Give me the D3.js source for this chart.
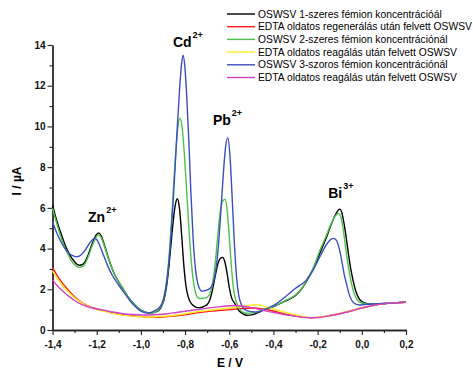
<!DOCTYPE html>
<html><head><meta charset="utf-8">
<script src="https://cdn.jsdelivr.net/npm/d3@7"></script>
<style>body{margin:0;background:#fff;}svg{display:block;font-family:"Liberation Sans",Arial,sans-serif;}</style>
</head><body><svg id="c" width="473" height="369"></svg>
<script>
const xTicks = [-1.4,-1.2,-1.0,-0.8,-0.6,-0.4,-0.2,0.0,0.2];
const yTicks = [0,2,4,6,8,10,12,14];
const seriesNames = [
 "OSWSV 1-szeres fémion koncentrációál",
 "EDTA oldatos regenerálás után felvett OSWSV",
 "OSWSV 2-szeres fémion koncentrációnál",
 "EDTA oldatos reagálás után felvett OSWSV",
 "OSWSV 3-szoros fémion koncentrációnál",
 "EDTA oldatos reagálás után felvett OSWSV"
];
const seriesColors = ["#000000","#ff1a1a","#4cc24c","#ffee22","#3a4fc0","#d040c8"];

const black = [[-1.40,6.15],[-1.38,5.35],[-1.36,4.7],[-1.34,4.1],[-1.32,3.65],[-1.30,3.35],[-1.28,3.18],[-1.26,3.25],[-1.24,3.65],[-1.22,4.25],[-1.20,4.7],[-1.19,4.77],[-1.18,4.62],[-1.16,4.0],[-1.14,3.3],[-1.12,2.75],[-1.10,2.35],[-1.08,2.0],[-1.06,1.65],[-1.04,1.38],[-1.02,1.15],[-1.00,0.98],[-0.98,0.88],[-0.96,0.84],[-0.94,0.86],[-0.925,0.93],[-0.915,1.0],[-0.905,1.2],[-0.895,1.5],[-0.885,2.05],[-0.875,2.93],[-0.865,4.05],[-0.855,5.2],[-0.845,6.1],[-0.835,6.45],[-0.825,5.95],[-0.815,4.6],[-0.805,3.1],[-0.795,2.1],[-0.785,1.6],[-0.775,1.35],[-0.76,1.18],[-0.745,1.1],[-0.733,1.1],[-0.72,1.13],[-0.71,1.18],[-0.70,1.25],[-0.69,1.42],[-0.68,1.78],[-0.67,2.3],[-0.66,2.85],[-0.65,3.3],[-0.64,3.52],[-0.63,3.57],[-0.62,3.35],[-0.61,2.8],[-0.60,2.1],[-0.59,1.6],[-0.575,1.3],[-0.56,1.0],[-0.545,0.84],[-0.53,0.75],[-0.515,0.72],[-0.50,0.74],[-0.48,0.8],[-0.45,0.95],[-0.40,1.15],[-0.35,1.4],[-0.30,1.7],[-0.27,2.05],[-0.25,2.4],[-0.22,3.0],[-0.19,3.77],[-0.16,4.55],[-0.14,5.15],[-0.12,5.65],[-0.10,5.94],[-0.09,5.75],[-0.08,5.2],[-0.07,4.5],[-0.06,3.7],[-0.05,3.0],[-0.04,2.46],[-0.03,2.0],[-0.02,1.7],[-0.01,1.5],[0.0,1.4],[0.02,1.31],[0.05,1.28],[0.10,1.3],[0.15,1.33],[0.20,1.37]];

const green = [[-1.40,5.98],[-1.38,5.2],[-1.36,4.5],[-1.34,3.95],[-1.32,3.5],[-1.30,3.2],[-1.28,3.08],[-1.26,3.15],[-1.24,3.55],[-1.22,4.15],[-1.20,4.6],[-1.19,4.68],[-1.18,4.55],[-1.16,3.95],[-1.14,3.3],[-1.12,2.75],[-1.10,2.35],[-1.08,2.0],[-1.06,1.65],[-1.04,1.38],[-1.02,1.15],[-1.00,0.98],[-0.98,0.88],[-0.96,0.85],[-0.94,0.86],[-0.925,0.95],[-0.913,1.09],[-0.903,1.29],[-0.893,1.69],[-0.883,2.4],[-0.873,3.52],[-0.863,5.06],[-0.853,6.87],[-0.843,8.6],[-0.833,9.93],[-0.823,10.4],[-0.813,9.93],[-0.803,8.6],[-0.793,6.87],[-0.783,5.06],[-0.773,3.52],[-0.763,2.45],[-0.753,1.85],[-0.743,1.6],[-0.733,1.55],[-0.72,1.56],[-0.709,1.58],[-0.699,1.62],[-0.689,1.76],[-0.679,2.1],[-0.669,2.77],[-0.659,3.78],[-0.649,5.0],[-0.639,5.95],[-0.629,6.35],[-0.619,6.42],[-0.609,5.84],[-0.599,4.44],[-0.589,2.95],[-0.579,1.9],[-0.57,1.45],[-0.555,1.05],[-0.54,0.88],[-0.52,0.82],[-0.50,0.84],[-0.48,0.88],[-0.45,0.98],[-0.40,1.17],[-0.35,1.42],[-0.30,1.72],[-0.27,2.07],[-0.25,2.44],[-0.22,3.05],[-0.19,3.9],[-0.16,4.65],[-0.14,5.2],[-0.12,5.6],[-0.107,5.73],[-0.095,5.55],[-0.085,5.0],[-0.075,4.2],[-0.065,3.4],[-0.055,2.75],[-0.045,2.2],[-0.035,1.8],[-0.025,1.55],[-0.01,1.38],[0.01,1.3],[0.04,1.27],[0.10,1.3],[0.15,1.33],[0.20,1.37]];

const blue = [[-1.40,5.32],[-1.38,4.75],[-1.36,4.3],[-1.34,3.95],[-1.32,3.72],[-1.30,3.62],[-1.29,3.6],[-1.27,3.7],[-1.25,3.95],[-1.23,4.3],[-1.21,4.5],[-1.20,4.45],[-1.19,4.25],[-1.17,3.7],[-1.15,3.15],[-1.13,2.7],[-1.11,2.35],[-1.09,2.05],[-1.07,1.75],[-1.05,1.45],[-1.03,1.2],[-1.01,1.0],[-0.99,0.88],[-0.97,0.84],[-0.95,0.88],[-0.935,0.96],[-0.925,1.03],[-0.915,1.12],[-0.905,1.3],[-0.895,1.65],[-0.885,2.25],[-0.875,3.15],[-0.865,4.45],[-0.855,6.1],[-0.845,8.0],[-0.835,10.0],[-0.825,11.8],[-0.817,12.95],[-0.809,13.5],[-0.801,12.95],[-0.793,11.6],[-0.783,9.3],[-0.773,6.6],[-0.763,4.4],[-0.753,3.0],[-0.743,2.3],[-0.733,2.0],[-0.724,1.9],[-0.712,1.93],[-0.697,1.98],[-0.687,2.05],[-0.677,2.2],[-0.667,2.56],[-0.657,3.26],[-0.647,4.41],[-0.637,5.98],[-0.627,7.64],[-0.617,8.95],[-0.607,9.45],[-0.597,8.6],[-0.587,6.55],[-0.577,4.3],[-0.567,2.6],[-0.557,1.7],[-0.547,1.3],[-0.537,1.08],[-0.52,0.95],[-0.50,0.9],[-0.476,0.88],[-0.45,0.95],[-0.42,1.1],[-0.40,1.2],[-0.35,1.6],[-0.30,2.05],[-0.25,2.46],[-0.22,2.95],[-0.19,3.6],[-0.16,4.2],[-0.14,4.45],[-0.128,4.5],[-0.115,4.4],[-0.10,3.9],[-0.09,3.35],[-0.08,2.75],[-0.07,2.3],[-0.06,1.85],[-0.045,1.45],[-0.03,1.28],[-0.01,1.23],[0.01,1.25],[0.05,1.28],[0.10,1.3],[0.15,1.33],[0.20,1.37]];

const red = [[-1.40,3.08],[-1.38,2.7],[-1.36,2.38],[-1.34,2.1],[-1.32,1.85],[-1.30,1.63],[-1.28,1.45],[-1.26,1.3],[-1.24,1.18],[-1.22,1.1],[-1.20,1.04],[-1.18,0.98],[-1.165,0.96],[-1.15,0.89],[-1.12,0.82],[-1.08,0.75],[-1.04,0.7],[-1.00,0.66],[-0.96,0.63],[-0.92,0.63],[-0.88,0.66],[-0.84,0.7],[-0.80,0.75],[-0.76,0.82],[-0.72,0.88],[-0.68,0.93],[-0.64,0.97],[-0.60,1.0],[-0.56,1.04],[-0.52,1.07],[-0.49,1.08],[-0.46,1.05],[-0.42,0.98],[-0.38,0.88],[-0.34,0.77],[-0.30,0.68],[-0.26,0.62],[-0.23,0.6],[-0.20,0.62],[-0.16,0.68],[-0.12,0.76],[-0.08,0.86],[-0.04,0.97],[0.0,1.08],[0.04,1.18],[0.08,1.26],[0.12,1.31],[0.16,1.34],[0.20,1.36]];

const yellow = [[-1.40,2.9],[-1.38,2.55],[-1.36,2.25],[-1.34,2.0],[-1.32,1.78],[-1.30,1.58],[-1.28,1.42],[-1.26,1.28],[-1.24,1.16],[-1.22,1.08],[-1.20,1.0],[-1.16,0.9],[-1.12,0.8],[-1.08,0.73],[-1.04,0.68],[-1.00,0.65],[-0.96,0.64],[-0.92,0.66],[-0.88,0.69],[-0.84,0.74],[-0.80,0.8],[-0.76,0.87],[-0.72,0.93],[-0.68,0.98],[-0.64,1.03],[-0.60,1.08],[-0.56,1.14],[-0.52,1.2],[-0.48,1.24],[-0.45,1.2],[-0.42,1.1],[-0.38,0.97],[-0.34,0.85],[-0.30,0.74],[-0.26,0.65],[-0.23,0.61],[-0.20,0.62],[-0.16,0.68],[-0.12,0.76],[-0.08,0.86],[-0.04,0.97],[0.0,1.08],[0.04,1.18],[0.08,1.26],[0.12,1.31],[0.16,1.34],[0.20,1.36]];

const magenta = [[-1.40,2.46],[-1.38,2.2],[-1.36,1.98],[-1.34,1.78],[-1.32,1.6],[-1.30,1.45],[-1.28,1.32],[-1.26,1.22],[-1.24,1.14],[-1.22,1.08],[-1.20,1.03],[-1.16,0.95],[-1.12,0.87],[-1.08,0.8],[-1.04,0.76],[-1.00,0.74],[-0.96,0.74],[-0.92,0.76],[-0.88,0.8],[-0.84,0.86],[-0.80,0.92],[-0.76,0.98],[-0.72,1.04],[-0.68,1.1],[-0.64,1.15],[-0.60,1.19],[-0.57,1.2],[-0.54,1.17],[-0.50,1.1],[-0.46,1.0],[-0.42,0.9],[-0.38,0.82],[-0.34,0.74],[-0.30,0.68],[-0.26,0.62],[-0.23,0.6],[-0.20,0.61],[-0.16,0.67],[-0.12,0.75],[-0.08,0.85],[-0.04,0.96],[0.0,1.08],[0.04,1.18],[0.08,1.26],[0.12,1.31],[0.16,1.34],[0.20,1.36]];

const peakLabels = [
 {t:"Zn", s:"2+", E:-1.239, I:5.3},
 {t:"Cd", s:"2+", E:-0.855, I:13.9},
 {t:"Pb", s:"2+", E:-0.674, I:10.07},
 {t:"Bi", s:"3+", E:-0.152, I:6.48}
];

const svg = d3.select("#c");
const x = d3.scaleLinear().domain([-1.4,0.2]).range([52.5,406]);
const y = d3.scaleLinear().domain([0,14]).range([330,45]);
const fmt = d => d3.format(".1f")(d).replace(".",",").replace("−","-");

const xAxis = d3.axisBottom(x).tickValues(xTicks).tickFormat(fmt).tickSize(5).tickSizeOuter(0);
const xMinor = d3.axisBottom(x).tickValues(d3.range(-13,2,2).map(v=>v/10)).tickFormat("").tickSize(3).tickSizeOuter(0);
const yAxis = d3.axisLeft(y).tickValues(yTicks).tickFormat(d3.format("d")).tickSize(5).tickSizeOuter(0);
const yMinor = d3.axisLeft(y).tickValues(d3.range(1,14,2)).tickFormat("").tickSize(3).tickSizeOuter(0);

const gx = svg.append("g").attr("transform","translate(0,330)");
gx.call(xAxis);
gx.append("g").call(xMinor);
const gy = svg.append("g").attr("transform","translate(52.5,0)");
gy.call(yAxis);
gy.append("g").call(yMinor);
svg.selectAll(".domain").attr("stroke","#222").attr("stroke-width",1.3);
svg.selectAll(".tick line").attr("stroke","#222").attr("stroke-width",1.1);
gx.selectAll(".tick text").attr("font-size",10).attr("font-weight","bold").attr("fill","#111").attr("dy","0.95em").attr("font-family","Liberation Sans, Arial, sans-serif");
gy.selectAll(".tick text").attr("font-size",10).attr("font-weight","bold").attr("fill","#111").attr("x",-7).attr("font-family","Liberation Sans, Arial, sans-serif");

const line = d3.line().x(d=>x(d[0])).y(d=>y(d[1])).curve(d3.curveMonotoneX);
const allSeries = [black, red, green, yellow, blue, magenta];
allSeries.forEach((s,i)=>{
  svg.append("path").datum(s).attr("d",line).attr("fill","none")
    .attr("stroke",seriesColors[i]).attr("stroke-width",1.4).attr("stroke-linejoin","round");
});

peakLabels.forEach(p=>{
  const t = svg.append("text").attr("x",x(p.E)).attr("y",y(p.I))
    .attr("font-size",14).attr("font-weight","bold").attr("fill","#000");
  t.append("tspan").text(p.t);
  t.append("tspan").attr("font-size",9).attr("dy",-9).attr("dx",1).text(p.s);
});

svg.append("text").attr("transform","translate(21,181) rotate(-90)").attr("text-anchor","middle")
  .attr("font-size",12).attr("font-weight","bold").text("I / µA");
svg.append("text").attr("x",230).attr("y",367).attr("text-anchor","middle")
  .attr("font-size",12).attr("font-weight","bold").text("E / V");

const lg = svg.append("g");
seriesNames.forEach((n,i)=>{
  const cy = 14 + i*12.7;
  lg.append("line").attr("x1",227).attr("x2",255).attr("y1",cy).attr("y2",cy)
    .attr("stroke",seriesColors[i]).attr("stroke-width",1.4);
  lg.append("text").attr("x",258).attr("y",cy+3.6).attr("font-size",10.3).attr("fill","#000").text(n);
});
</script></body></html>
